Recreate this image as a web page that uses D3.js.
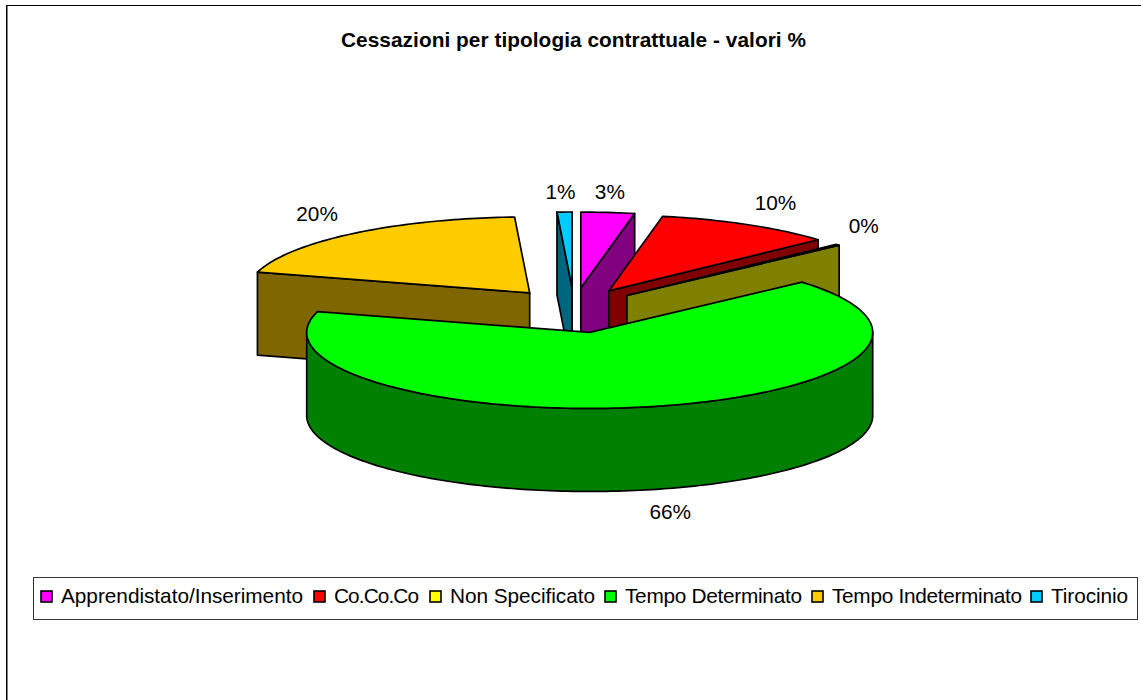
<!DOCTYPE html>
<html>
<head>
<meta charset="utf-8">
<script src="https://cdnjs.cloudflare.com/ajax/libs/d3/7.9.0/d3.min.js"></script>
<style>
  html, body { margin: 0; background: #fff; }
  text { font-family: "Liberation Sans", Arial, sans-serif; fill: #000; }
</style>
</head>
<body>
<div id="chart"></div>
<script>
const title = "Cessazioni per tipologia contrattuale - valori %";
const categories = ["Apprendistato/Inserimento", "Co.Co.Co", "Non Specificato", "Tempo Determinato", "Tempo Indeterminato", "Tirocinio"];
const values = [3.05, 10.2, 0.25, 65.9, 19.75, 0.85];
const valueLabels = ["3%", "10%", "0%", "66%", "20%", "1%"];
const topColours = ["#ff00ff", "#ff0000", "#ffff00", "#00ff00", "#ffcc00", "#00ccff"];
const sideColours = ["#800080", "#800000", "#808000", "#008000", "#806600", "#006680"];

const width = 1141, height = 700;
const cx = 574, cy = 310.5;
const rx = 283, ry = 76, depth = 83;
const explodeX = 71, explodeY = 22.5;

const svg = d3.select("#chart").append("svg")
  .attr("width", width)
  .attr("height", height)
  .style("display", "block");

// frame runs off the right and bottom of the picture
svg.append("rect")
  .attr("x", 6.5).attr("y", 5.5)
  .attr("width", width).attr("height", height)
  .attr("fill", "#fff").attr("stroke", "#000");
svg.append("line")
  .attr("x1", 7.5).attr("x2", 7.5)
  .attr("y1", 6).attr("y2", height)
  .attr("stroke", "#808080");

svg.append("text")
  .attr("x", 573.5).attr("y", 47)
  .attr("text-anchor", "middle")
  .attr("textLength", 465)
  .style("font-size", "20.8px")
  .style("font-weight", "bold")
  .text(title);

const slices = d3.pie().sort(null).value((d) => d)(values).map((d, i) => {
  const mid = (d.startAngle + d.endAngle) / 2;
  return {
    i,
    start: d.startAngle,
    end: d.endAngle,
    ax: cx + explodeX * Math.sin(mid),
    ay: cy - explodeY * Math.cos(mid),
  };
});

const rim = (s, a, dz = 0) => [s.ax + rx * Math.sin(a), s.ay - ry * Math.cos(a) + dz];

const arcPoints = (s, a0, a1, dz = 0) => {
  const n = Math.max(2, Math.ceil(Math.abs(a1 - a0) / 0.02));
  return d3.range(n + 1).map((k) => rim(s, a0 + ((a1 - a0) * k) / n, dz));
};

const line = d3.line();
const pieGroup = svg.append("g")
  .attr("stroke", "#000")
  .attr("stroke-width", 1.7)
  .attr("stroke-linejoin", "round");

// back slices first, the big green one goes on top of everything
const drawOrder = [4, 5, 0, 1, 2, 3];

drawOrder.forEach((i) => {
  const s = slices[i];
  const g = pieGroup.append("g");
  const side = sideColours[i];

  // radial walls that face the viewer
  [s.start, s.end].forEach((a) => {
    const tip = rim(s, a);
    const facing = a === s.start ? Math.sin(a) < 0 : Math.sin(a) > 0 && Math.cos(a) > 0;
    if (!facing) return;
    g.append("path")
      .attr("fill", side)
      .attr("d", line([[s.ax, s.ay], tip, [tip[0], tip[1] + depth], [s.ax, s.ay + depth]]) + "Z");
  });

  // outer wall, only the part in the front half
  const a0 = Math.max(s.start, Math.PI / 2);
  const a1 = Math.min(s.end, (3 * Math.PI) / 2);
  if (a1 > a0) {
    g.append("path")
      .attr("fill", side)
      .attr("d", line([...arcPoints(s, a0, a1), ...arcPoints(s, a1, a0, depth)]) + "Z");
  }

  g.append("path")
    .attr("fill", topColours[i])
    .attr("d", line([[s.ax, s.ay], ...arcPoints(s, s.start, s.end)]) + "Z");
});

// labels sit just outside the rim of each slice
const labelOffsets = [
  [2, -13], [28, -15], [26, -12], [18, 29], [-36, -13], [-4, -13],
];
slices.forEach((s) => {
  const mid = (s.start + s.end) / 2;
  const p = rim(s, mid);
  svg.append("text")
    .attr("x", p[0] + labelOffsets[s.i][0])
    .attr("y", p[1] + labelOffsets[s.i][1] + (s.i === 3 ? depth : 0))
    .attr("text-anchor", "middle")
    .style("font-size", "20.8px")
    .text(valueLabels[s.i]);
});

// legend
const legend = svg.append("g");
legend.append("rect")
  .attr("x", 33.5).attr("y", 577.5)
  .attr("width", 1104).attr("height", 42)
  .attr("fill", "#fff").attr("stroke", "#333");

const legendX = [41, 314, 430, 605, 812, 1031];
const legendTextW = [242, 85, 145, 177, 190, 77];
categories.forEach((c, i) => {
  const g = legend.append("g").attr("transform", `translate(${legendX[i]},591)`);
  g.append("rect")
    .attr("width", 11).attr("height", 11)
    .attr("fill", topColours[i])
    .attr("stroke", "#000").attr("stroke-width", 1.6);
  g.append("text")
    .attr("x", 20).attr("y", 12)
    .attr("textLength", legendTextW[i])
    .style("font-size", "20.8px")
    .text(c);
});
</script>
</body>
</html>
